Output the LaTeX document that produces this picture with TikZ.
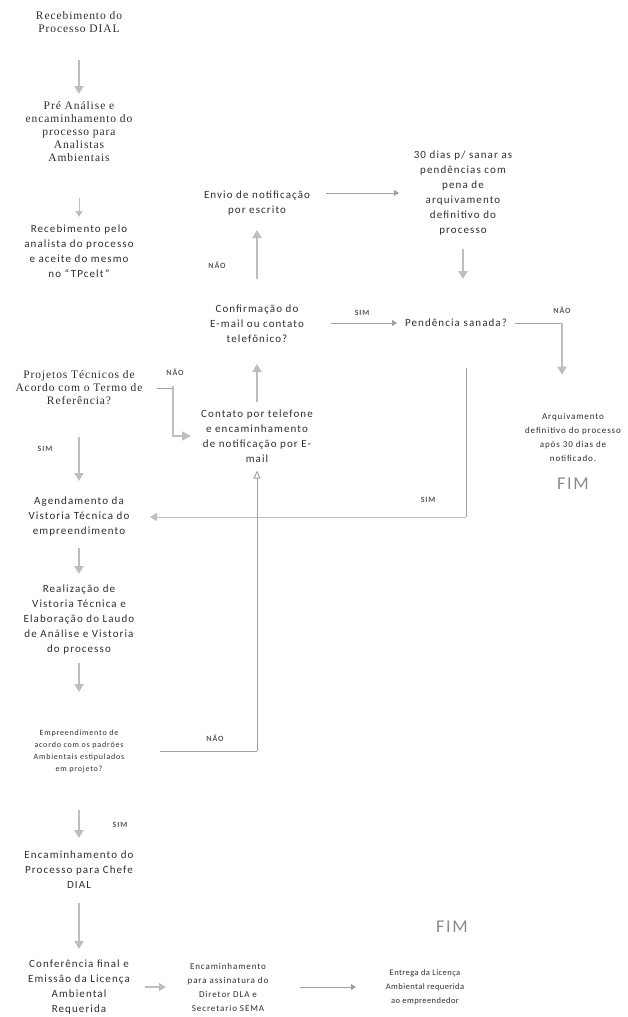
\documentclass[tikz,border=0pt]{standalone}
\usepackage{fontspec}
\setmainfont{Carlito}[LetterSpace=10]
\newfontfamily\smallsans{Carlito}[LetterSpace=5]
\newfontfamily\serifft{Liberation Serif}[LetterSpace=8]
\usetikzlibrary{arrows.meta}
\definecolor{txt}{HTML}{2E2E2E}
\definecolor{arrc}{HTML}{BEBEBE}
\definecolor{linec}{HTML}{A0A0A0}
\definecolor{lblc}{HTML}{5A5A5A}
\definecolor{fimc}{HTML}{8A8A8A}
\begin{document}
\begin{tikzpicture}[x=1pt,y=-1pt,
  box/.style={align=center,text=txt,inner sep=0pt,font=\fontsize{11}{15}\selectfont},
  smallbox/.style={box,font=\fontsize{9}{14}\selectfont},
  entrbox/.style={box,font=\smallsans\fontsize{8.5}{14}\selectfont},
  tinybox/.style={box,font=\fontsize{8}{12}\selectfont},
  serifbox/.style={align=center,text=txt,inner sep=0pt,font=\serifft\fontsize{11.5}{13}\selectfont},
  lbl/.style={text=lblc,inner sep=0pt,font=\fontsize{8}{9}\selectfont\bfseries},
  fim/.style={text=fimc,inner sep=0pt,font=\fontsize{18}{20}\selectfont},
  arr/.style={draw=arrc,line width=2.6pt,-{Triangle[width=9pt,length=8pt]}},
  thin/.style={draw=linec,line width=0.9pt},
  thinarr/.style={thin,-{Triangle[width=6pt,length=5pt]}},
  openarr/.style={thin,-{Triangle[open,width=7pt,length=8pt]}}]
\useasboundingbox (0,0) rectangle (628,1017);

% left column
\node[serifbox] (rec) at (79,22) {Recebimento do\\Processo DIAL};
\node[serifbox] (pre) at (79,132) {Pré Análise e\\encaminhamento do\\processo para\\Analistas\\Ambientais};
\node[box] (tp) at (79,251) {Recebimento pelo\\analista do processo\\e aceite do mesmo\\no “TPcelt”};
\node[serifbox] (proj) at (79,388) {Projetos Técnicos de\\Acordo com o Termo de\\Referência?};
\node[box] (agend) at (79,517) {Agendamento da\\Vistoria Técnica do\\empreendimento};
\node[box] (real) at (79,620) {Realização de\\Vistoria Técnica e\\Elaboração do Laudo\\de Análise e Vistoria\\do processo};
\node[tinybox] (emp) at (79,751) {Empreendimento de\\acordo com os padrões\\Ambientais estipulados\\em projeto?};
\node[box] (enc) at (79,870) {Encaminhamento do\\Processo para Chefe\\DIAL};
\node[box] (conf) at (79,987) {Conferência final e\\Emissão da Licença\\Ambiental\\Requerida};
\node[smallbox] (assin) at (228,987) {Encaminhamento\\para assinatura do\\Diretor DLA e\\Secretario SEMA};
\node[entrbox] (entr) at (425,987) {Entrega da Licença\\Ambiental requerida\\ao empreendedor};
\node[fim] (fim2) at (452,927) {FIM};

% middle / right
\node[box] (envio) at (257,203) {Envio de notificação\\por escrito};
\node[box] (dias) at (463,193) {30 dias p/ sanar as\\pendências com\\pena de\\arquivamento\\definitivo do\\processo};
\node[box] (confirm) at (257,324) {Confirmação do\\E-mail ou contato\\telefônico?};
\node[box] (pend) at (456,323) {Pendência sanada?};
\node[smallbox] (arq) at (573,437) {Arquivamento\\definitivo do processo\\após 30 dias de\\notificado.};
\node[fim] (fim1) at (573,484) {FIM};
\node[box] (contato) at (257,436) {Contato por telefone\\e encaminhamento\\de notificação por E-\\mail};

% labels
\node[lbl] (l1) at (175,372) {NÃO};
\node[lbl] (l2) at (45,449) {SIM};
\node[lbl] (l3) at (217,265) {NÃO};
\node[lbl] (l4) at (362,313) {SIM};
\node[lbl] (l5) at (562,310) {NÃO};
\node[lbl] (l6) at (428,500) {SIM};
\node[lbl] (l7) at (215,738) {NÃO};
\node[lbl] (l8) at (120,825) {SIM};

% main vertical arrows (left column)
\draw[arr] (rec |- 0,60) -- (pre |- 0,94);
\draw[draw=arrc,line width=1pt,-{Triangle[width=7pt,length=6pt]}] (pre |- 0,198) -- (tp |- 0,217);
\draw[arr] (proj |- 0,437) -- (agend |- 0,481);
\draw[arr] (agend |- 0,548) -- (real |- 0,574);
\draw[arr] (real |- 0,663) -- (emp |- 0,692);
\draw[arr] (emp |- 0,810) -- (enc |- 0,838);
\draw[arr] (enc |- 0,903) -- (conf |- 0,949);
% bottom row
\draw[arr,line width=2pt,-{Triangle[width=8pt,length=7pt]}] (conf -| 145,0) -- (assin -| 166,0);
\draw[thinarr] (assin -| 300,0) -- (entr -| 356,0);

% middle column
\draw[arr] (contato |- 0,402) -- (confirm |- 0,364);
\draw[arr] (confirm |- 0,279) -- (envio |- 0,230);
\draw[thinarr] (dias -| 326,0) -- (dias.west -| 399,0);
\draw[arr] (dias |- 0,249) -- (dias |- 0,279);
\draw[thinarr] (pend -| 331,0) -- (pend -| 397,0);

% NAO from Pendencia to Arquivamento
\coordinate (c5) at (562,323);
\draw[thin] (pend -| 515,0) -- (c5);
\draw[arr] (c5) -- (c5 |- arq.north) [shorten >=38pt];

% NAO from Projetos to Contato
\coordinate (c1) at (173,386);
\draw[thin] (proj -| 157,0) -- (proj -| c1) -- (c1);
\draw[arr,line width=1.5pt,-{Triangle[width=9pt,length=9pt]}] (c1) |- (contato.west -| 191,0);

% SIM from Pendencia to Agendamento
\coordinate (c6) at (466,517);
\draw[thin] (pend -| c6) ++(0,45) -- (c6);
\draw[arr,line width=1pt,-{Triangle[width=8pt,length=7pt]}] (c6) -- (agend -| 150,0);

% NAO from Empreendimento to Contato
\coordinate (c7) at (257,751);
\draw[thin] (emp -| 160,0) -- (c7);
\draw[openarr,shorten >=8pt] (c7) -- (contato.south);
\end{tikzpicture}
\end{document}
